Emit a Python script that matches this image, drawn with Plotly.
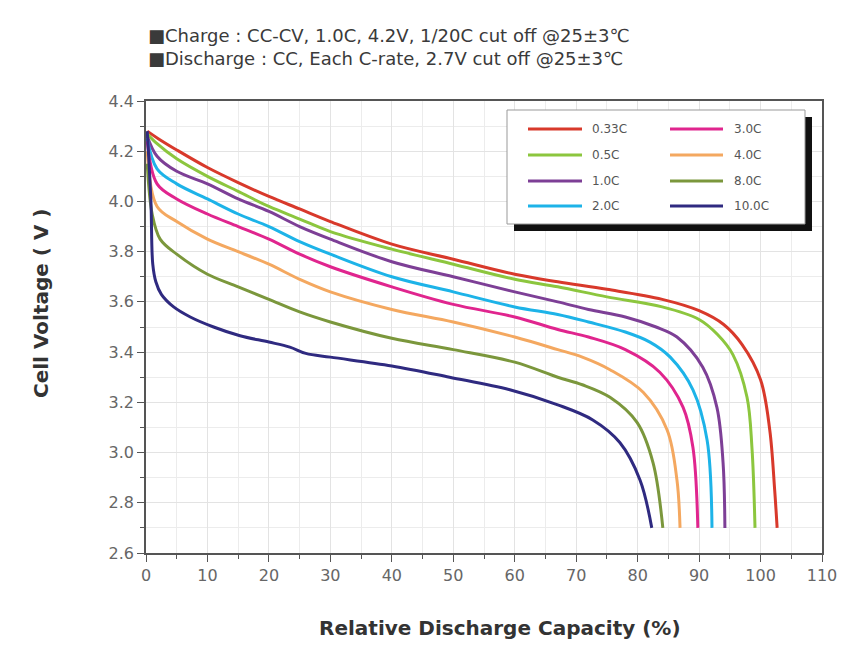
import plotly.graph_objects as go

# Discharge curves: relative capacity (%) vs cell voltage (V) per C-rate
rates = ["0.33C", "0.5C", "1.0C", "2.0C", "3.0C", "4.0C", "8.0C", "10.0C"]
colors = ["#d8392b", "#8cc63e", "#7d3f96", "#1db3e8", "#e0258e", "#f4a860", "#7b973c", "#2f2a80"]

cap_033 = [0.2, 2, 5, 10, 15, 20, 25, 30, 40, 50, 60, 67, 75, 84, 90, 94, 97, 100, 101.5, 102.3, 102.7]
v_033 = [4.28, 4.25, 4.205, 4.135, 4.075, 4.02, 3.97, 3.92, 3.83, 3.77, 3.71, 3.68, 3.65, 3.61, 3.565, 3.51, 3.43, 3.29, 3.09, 2.85, 2.70]

cap_05 = [0.2, 1.8, 5, 10, 15, 20, 25, 30, 40, 50, 60, 67, 75, 84, 90, 93, 95.5, 97.8, 98.6, 99.1]
v_05 = [4.27, 4.23, 4.17, 4.10, 4.04, 3.98, 3.93, 3.88, 3.81, 3.75, 3.69, 3.66, 3.62, 3.58, 3.53, 3.47, 3.39, 3.22, 3.02, 2.70]

cap_10 = [0.2, 1.8, 5, 10, 15, 20, 25, 30, 40, 50, 60, 67, 72, 78, 83, 86.4, 90.6, 92.9, 93.9, 94.2]
v_10 = [4.26, 4.18, 4.12, 4.07, 4.01, 3.96, 3.90, 3.85, 3.76, 3.70, 3.64, 3.60, 3.57, 3.54, 3.50, 3.46, 3.34, 3.18, 2.96, 2.70]

cap_20 = [0.2, 1.8, 5, 10, 15, 20, 25, 30, 40, 50, 60, 67, 72, 78, 82, 85.3, 89.0, 91.3, 92.1]
v_20 = [4.25, 4.13, 4.07, 4.01, 3.95, 3.90, 3.84, 3.79, 3.70, 3.64, 3.58, 3.55, 3.52, 3.48, 3.44, 3.38, 3.25, 3.05, 2.70]

cap_30 = [0.2, 1.8, 5, 10, 15, 20, 25, 30, 40, 50, 60, 67, 72, 78, 83.6, 87.4, 89.0, 89.8]
v_30 = [4.24, 4.07, 4.01, 3.95, 3.90, 3.85, 3.79, 3.74, 3.66, 3.59, 3.54, 3.49, 3.46, 3.41, 3.32, 3.18, 3.02, 2.70]

cap_40 = [0.2, 1.8, 5, 10, 15, 20, 25, 30, 40, 50, 60, 67, 71, 75.5, 80.9, 84.8, 86.4, 86.9]
v_40 = [4.20, 3.98, 3.92, 3.85, 3.80, 3.75, 3.69, 3.64, 3.57, 3.52, 3.46, 3.41, 3.38, 3.33, 3.24, 3.09, 2.89, 2.70]

cap_80 = [0.2, 1.0, 2.3, 5, 10, 15, 20, 25, 30, 40, 50, 60, 67, 71, 75.5, 79.9, 82.5, 84.1]
v_80 = [4.15, 3.95, 3.85, 3.79, 3.71, 3.66, 3.61, 3.56, 3.52, 3.455, 3.41, 3.36, 3.30, 3.27, 3.22, 3.12, 2.96, 2.70]

cap_100 = [0.2, 0.8, 1.1, 1.6, 2.5, 4.5, 7.2, 11, 15.3, 20, 23.4, 26, 30, 40, 49.4, 59.2, 67, 72.7, 77.1, 80.4, 82.3]
v_100 = [4.28, 4.00, 3.75, 3.68, 3.63, 3.58, 3.54, 3.50, 3.465, 3.44, 3.42, 3.395, 3.38, 3.345, 3.30, 3.25, 3.19, 3.13, 3.04, 2.89, 2.70]

capacities = [cap_033, cap_05, cap_10, cap_20, cap_30, cap_40, cap_80, cap_100]
voltages = [v_033, v_05, v_10, v_20, v_30, v_40, v_80, v_100]

x_ticks = list(range(0, 111, 10))
y_ticks = [2.6, 2.8, 3.0, 3.2, 3.4, 3.6, 3.8, 4.0, 4.2, 4.4]

header_lines = [
    "■Charge : CC-CV, 1.0C, 4.2V, 1/20C cut off @25±3℃",
    "■Discharge : CC, Each C-rate, 2.7V cut off @25±3℃",
]

W, H = 857, 657
L, R, T, B = 146, 822, 101, 553


def px(xp):
    return (xp - L) / (R - L)


def py(yp):
    return (B - yp) / (B - T)


fig = go.Figure()
for name, col, xs, ys in zip(rates, colors, capacities, voltages):
    fig.add_trace(go.Scatter(
        x=xs, y=ys, mode="lines", name=name,
        line=dict(color=col, width=3, shape="spline", smoothing=1.0),
        showlegend=False,
    ))

font_main = "DejaVu Sans, Liberation Sans, Arial, sans-serif"

axis_common = dict(
    showline=True, linecolor="#555", linewidth=1.5, mirror=True,
    ticks="outside", ticklen=7, tickwidth=1.2, tickcolor="#555",
    showgrid=True, gridcolor="#e3e3e3", gridwidth=1,
    tickfont=dict(family=font_main, size=16, color="#666"),
    zeroline=False,
)

fig.update_xaxes(
    range=[0, 110], tickvals=x_ticks, **axis_common,
    minor=dict(dtick=5, ticks="outside", ticklen=4, tickcolor="#555", showgrid=True, gridcolor="#ececec"),
)
fig.update_yaxes(
    range=[2.6, 4.4], tickvals=y_ticks, tickformat=".1f", **axis_common,
    minor=dict(dtick=0.1, ticks="outside", ticklen=4, tickcolor="#555", showgrid=True, gridcolor="#ececec"),
)

shapes = []
annotations = []

# Legend panel with drop shadow
shapes.append(dict(type="rect", xref="paper", yref="paper",
                   x0=px(514), x1=px(812), y0=py(231), y1=py(117),
                   fillcolor="#111", line=dict(width=0), layer="above"))
shapes.append(dict(type="rect", xref="paper", yref="paper",
                   x0=px(507), x1=px(805), y0=py(224), y1=py(110),
                   fillcolor="white", line=dict(color="#999", width=1), layer="above"))

row_y = [129, 155, 181, 206]
col_x = [(528, 582, 590), (670, 723, 732)]
for i, (name, col) in enumerate(zip(rates, colors)):
    c, r = divmod(i, 4)
    x0, x1, xt = col_x[c]
    yy = py(row_y[r])
    shapes.append(dict(type="line", xref="paper", yref="paper",
                       x0=px(x0), x1=px(x1), y0=yy, y1=yy,
                       line=dict(color=col, width=3), layer="above"))
    annotations.append(dict(xref="paper", yref="paper", x=px(xt), y=yy,
                            text=name, showarrow=False, xanchor="left", yanchor="middle",
                            font=dict(family=font_main, size=12, color="#555")))

# Test-condition header
for k, line in enumerate(header_lines):
    annotations.append(dict(xref="paper", yref="paper", x=px(146), y=py(36 + 23 * k),
                            text=line, showarrow=False, xanchor="left", yanchor="middle",
                            font=dict(family=font_main, size=18, color="#3a3a3a")))

# Axis titles
annotations.append(dict(xref="paper", yref="paper", x=px(41), y=py(304),
                        text="<b>Cell Voltage ( V )</b>", showarrow=False, textangle=-90,
                        xanchor="center", yanchor="middle",
                        font=dict(family=font_main, size=20, color="#333")))
annotations.append(dict(xref="paper", yref="paper", x=px(500), y=py(628),
                        text="<b>Relative Discharge Capacity (%)</b>", showarrow=False,
                        xanchor="center", yanchor="middle",
                        font=dict(family=font_main, size=20, color="#333")))

fig.update_layout(
    width=W, height=H,
    margin=dict(l=L, r=W - R, t=T, b=H - B),
    paper_bgcolor="white", plot_bgcolor="white",
    shapes=shapes, annotations=annotations,
    showlegend=False,
)

fig.write_html("out.html")
